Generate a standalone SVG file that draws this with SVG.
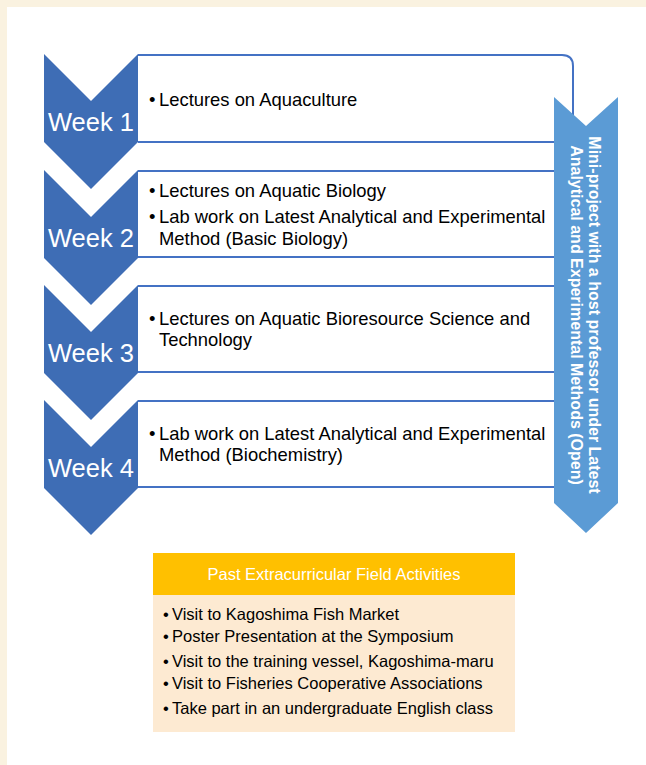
<svg xmlns="http://www.w3.org/2000/svg" width="646" height="765" viewBox="0 0 646 765">
<style>
.frame{fill:#FAF2E0}
.chev{fill:#3E6DB5}
.box{fill:#FFFFFF;stroke:#4472C4;stroke-width:2}
.wk{font-family:"Liberation Sans",Arial,sans-serif;font-size:25.5px;fill:#FFFFFF}
.tx{font-family:"Liberation Sans",Arial,sans-serif;font-size:18.4px;fill:#000000}
.side{font-family:"Liberation Sans",Arial,sans-serif;font-size:16px;font-weight:bold;fill:#FFFFFF}
.hdr{font-family:"Liberation Sans",Arial,sans-serif;font-size:16.5px;fill:#FFFFFF}
.act{font-family:"Liberation Sans",Arial,sans-serif;font-size:16.5px;fill:#000000}
</style>
<rect x="0" y="0" width="646" height="765" fill="#FFFFFF"/>
<rect class="frame" x="0" y="0" width="646" height="7"/>
<rect class="frame" x="0" y="0" width="7" height="765"/>

<g id="connectors">
<path d="M138,55 H562 Q573,55 573,66 V115" fill="none" stroke="#4472C4" stroke-width="2"/>
</g>

<g id="box1">
<path class="box" d="M138,55 H554 M138,142 H554" fill="none"/>
<text class="tx" x="149" y="106">•</text><text class="tx" x="159" y="106">Lectures on Aquaculture</text>
</g>
<g id="box2">
<path class="box" d="M138,171 H554 M138,257 H554" fill="none"/>
<text class="tx" x="149" y="197">•</text><text class="tx" x="159" y="197">Lectures on Aquatic Biology</text>
<text class="tx" x="149" y="223">•</text><text class="tx" x="159" y="223">Lab work on Latest Analytical and Experimental</text>
<text class="tx" x="159" y="245">Method (Basic Biology)</text>
</g>
<g id="box3">
<path class="box" d="M138,286 H554 M138,372 H554" fill="none"/>
<text class="tx" x="149" y="325">•</text><text class="tx" x="159" y="325">Lectures on Aquatic Bioresource Science and</text>
<text class="tx" x="159" y="346">Technology</text>
</g>
<g id="box4">
<path class="box" d="M138,401 H554 M138,487 H554" fill="none"/>
<text class="tx" x="149" y="440">•</text><text class="tx" x="159" y="440">Lab work on Latest Analytical and Experimental</text>
<text class="tx" x="159" y="461">Method (Biochemistry)</text>
</g>

<g id="week1">
<polygon class="chev" points="44,54 91,101 138,54 138,142 91,189 44,142"/>
<text class="wk" x="91" y="131" text-anchor="middle">Week 1</text>
</g>
<g id="week2">
<polygon class="chev" points="44,170 91,217 138,170 138,258 91,305 44,258"/>
<text class="wk" x="91" y="247" text-anchor="middle">Week 2</text>
</g>
<g id="week3">
<polygon class="chev" points="44,285 91,332 138,285 138,373 91,420 44,373"/>
<text class="wk" x="91" y="362" text-anchor="middle">Week 3</text>
</g>
<g id="week4">
<polygon class="chev" points="44,400 91,447 138,400 138,488 91,535 44,488"/>
<text class="wk" x="91" y="477" text-anchor="middle">Week 4</text>
</g>

<g id="miniproject">
<polygon points="554,97 586,126 618,97 618,503 586,533 554,503" fill="#5B9BD5"/>
<g transform="translate(586,315) rotate(90)">
<text class="side" x="0" y="-3" text-anchor="middle">Mini-project with a host professor under Latest</text>
<text class="side" x="0" y="15" text-anchor="middle">Analytical and Experimental Methods (Open)</text>
</g>
</g>

<g id="activities">
<rect x="153" y="553" width="362" height="42" fill="#FFC000"/>
<rect x="153" y="595" width="362" height="137" fill="#FDEAD2"/>
<text class="hdr" x="334" y="580" text-anchor="middle">Past Extracurricular Field Activities</text>
<text class="act" x="163" y="620">•</text><text class="act" x="172" y="620">Visit to Kagoshima Fish Market</text>
<text class="act" x="163" y="642">•</text><text class="act" x="172" y="642">Poster Presentation at the Symposium</text>
<text class="act" x="163" y="667">•</text><text class="act" x="172" y="667">Visit to the training vessel, Kagoshima-maru</text>
<text class="act" x="163" y="689">•</text><text class="act" x="172" y="689">Visit to Fisheries Cooperative Associations</text>
<text class="act" x="163" y="714">•</text><text class="act" x="172" y="714">Take part in an undergraduate English class</text>
</g>
</svg>
